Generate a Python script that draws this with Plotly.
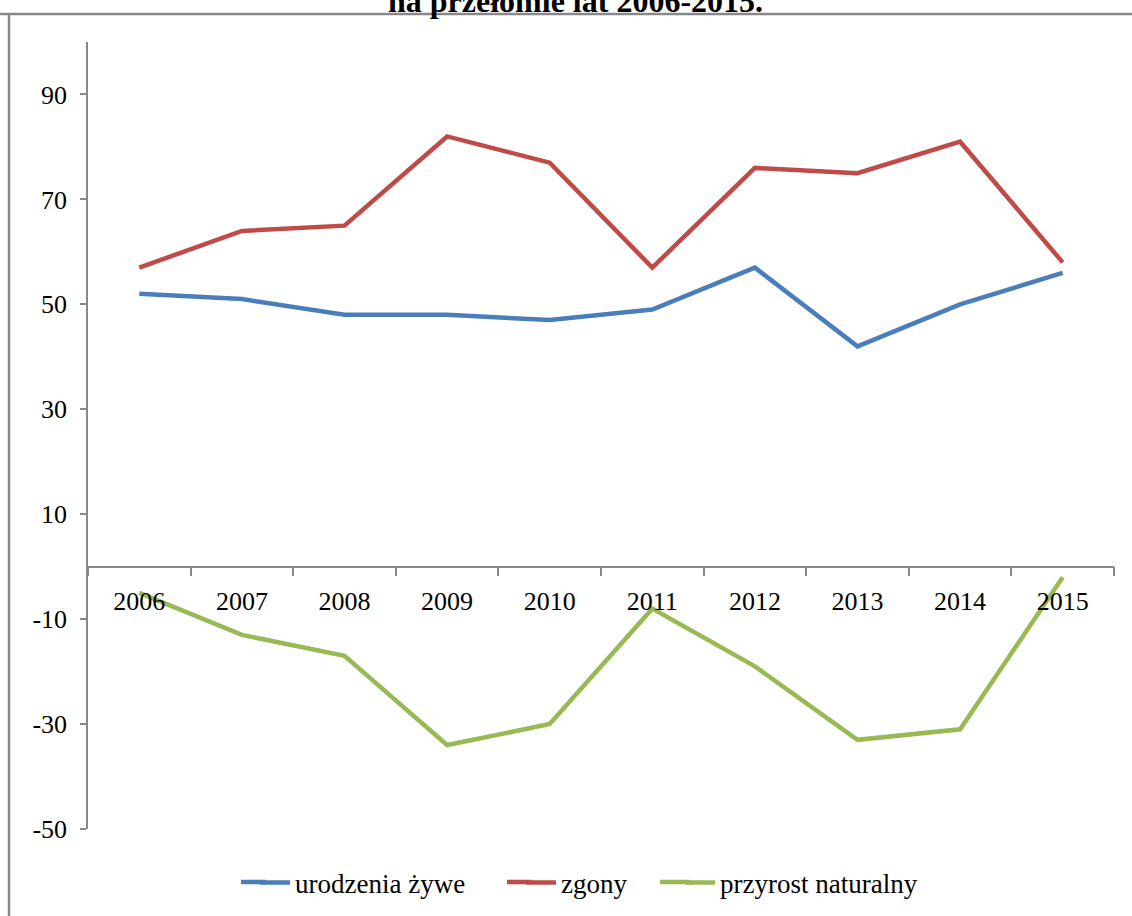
import plotly.graph_objects as go

years = ["2006", "2007", "2008", "2009", "2010", "2011", "2012", "2013", "2014", "2015"]
urodzenia = [52, 51, 48, 48, 47, 49, 57, 42, 50, 56]
zgony = [57, 64, 65, 82, 77, 57, 76, 75, 81, 58]
przyrost = [-5, -13, -17, -34, -30, -8, -19, -33, -31, -2]
y_ticks = [-50, -30, -10, 10, 30, 50, 70, 90]

names = ["urodzenia żywe", "zgony", "przyrost naturalny"]
colors = ["#4A7EBB", "#BE4B48", "#98B954"]

W, H = 1132, 916
L, R, T, B = 88, 18, 42, 87
pw = W - L - R
ph = H - T - B

font = "Liberation Serif, Times New Roman, serif"


def px_x(p):
    return (p - L) / pw


def px_y(p):
    return 1 + (T - p) / ph


fig = go.Figure()
for vals, nm, col, lg in zip([urodzenia, zgony, przyrost], names, colors,
                             ["legend", "legend2", "legend3"]):
    fig.add_trace(go.Scatter(x=years, y=vals, mode="lines", name=nm,
                             line=dict(color=col, width=4.5), legend=lg))

LEG_Y = 883


def leg(text_start):
    return dict(orientation="h", xref="container", yref="container",
                x=(text_start - 42) / W, xanchor="left",
                y=1 - LEG_Y / H, yanchor="middle",
                font=dict(family=font, size=27), itemwidth=30,
                bgcolor="rgba(0,0,0,0)", borderwidth=0)


# extend legend line samples to the reference's longer swatches
ext = [(241, 266), (507, 532), (660, 690)]
ext_shapes = [dict(type="line", xref="paper", yref="paper",
                   x0=px_x(a), x1=px_x(b), y0=px_y(LEG_Y - 1), y1=px_y(LEG_Y - 1),
                   line=dict(color=c, width=4.5))
              for (a, b), c in zip(ext, colors)]

fig.update_layout(
    width=W, height=H,
    margin=dict(l=L, r=R, t=T, b=B, autoexpand=False),
    paper_bgcolor="white", plot_bgcolor="white",
    font=dict(family=font, size=26, color="black"),
    showlegend=True,
    legend=leg(297), legend2=leg(563), legend3=leg(722),
    xaxis=dict(type="category", range=[-0.5, 9.5], tickson="boundaries",
               showline=True, linecolor="#888888", linewidth=1.5,
               ticks="outside", ticklen=9, tickcolor="#888888", tickwidth=1.5,
               showgrid=False, zeroline=False, anchor="free", position=50/150,
               ticklabelstandoff=11,
               tickfont=dict(family=font, size=26), fixedrange=True),
    yaxis=dict(range=[-50, 100], tickmode="array", tickvals=y_ticks,
               ticktext=[str(v) for v in y_ticks],
               showline=True, linecolor="#888888", linewidth=1.5,
               ticks="outside", ticklen=6, tickcolor="#888888", tickwidth=1.5,
               showgrid=False, zeroline=False, ticklabelstandoff=8,
               tickfont=dict(family=font, size=26)),
    annotations=[dict(text="<b>na przełomie lat 2006-2015.</b>", xref="paper", yref="paper",
                      x=px_x(575), y=px_y(21), xanchor="center",
                      yanchor="bottom", showarrow=False,
                      font=dict(family=font, size=32, color="black"))],
    shapes=[
        dict(type="line", xref="paper", yref="paper",
             x0=px_x(0), x1=px_x(W), y0=px_y(14), y1=px_y(14),
             line=dict(color="#888888", width=2.5)),
        dict(type="line", xref="paper", yref="paper",
             x0=px_x(9), x1=px_x(9), y0=px_y(14), y1=px_y(H + 5),
             line=dict(color="#888888", width=2.5)),
    ] + ext_shapes,
)

fig.write_html("out.html", config={"displayModeBar": False},
               post_script="document.body.style.margin='0';")
